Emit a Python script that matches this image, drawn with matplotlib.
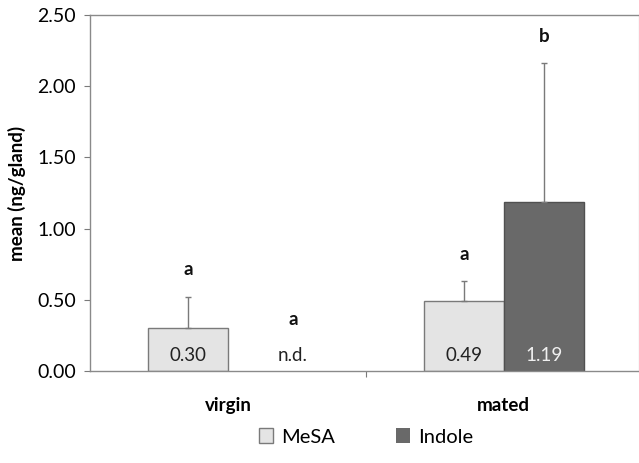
import matplotlib
matplotlib.use("Agg")
import matplotlib.pyplot as plt
import numpy as np

plt.rcParams['font.family'] = ['Lato', 'DejaVu Sans']

groups = ['virgin', 'mated']
series = ['MeSA', 'Indole']
means = {'MeSA': [0.30, 0.49], 'Indole': [0.0, 1.19]}
errs = {'MeSA': [0.22, 0.14], 'Indole': [0.0, 0.97]}
value_labels = {'MeSA': ['0.30', '0.49'], 'Indole': ['n.d.', '1.19']}
letters = {'MeSA': ['a', 'a'], 'Indole': ['a', 'b']}
colors = {'MeSA': '#e4e4e4', 'Indole': '#696969'}
edges = {'MeSA': '#7a7a7a', 'Indole': '#505050'}
text_colors = {'MeSA': '#222222', 'Indole': '#f0f0f0'}

fig = plt.figure(figsize=(6.39, 4.63), dpi=100)
ax = fig.add_axes([90 / 639, 1 - 371 / 463, 549 / 639, 356 / 463])

x = np.arange(len(groups))
w = 0.29
for i, s in enumerate(series):
    xs = x + (i - 0.5) * w
    m = np.array(means[s])
    e = np.array(errs[s])
    lw = np.where(m > 0, 1.0, 0.0)
    ax.bar(xs, m, w, color=colors[s], edgecolor=edges[s], linewidth=lw, label=s, zorder=2)
    has = e > 0
    ax.errorbar(xs[has], m[has], yerr=[np.zeros(has.sum()), e[has]], fmt='none',
                ecolor='#7a7a7a', elinewidth=1.0, capsize=2, capthick=1.0, zorder=3)
    for j in range(len(groups)):
        xt = xs[j]
        if m[j] == 0:
            xt = xs[j] + 0.09
            ly = 0.36
        else:
            ly = m[j] + e[j] + 0.19
        ax.text(xt, 0.11, value_labels[s][j], ha='center', va='center', fontsize=13.5,
                color=text_colors[s] if m[j] > 0 else '#222222', zorder=4)
        ax.text(xt, ly, letters[s][j], ha='center', va='center', fontsize=13.5,
                fontweight='bold', color='#111111')

ax.set_xlim(-0.5, 1.49)
ax.set_ylim(0, 2.5)
ax.set_yticks(np.arange(0, 2.51, 0.5))
ax.set_yticklabels([f'{v:.2f}' for v in np.arange(0, 2.51, 0.5)], fontsize=14)
ax.set_xticks([0.5], minor=False)
ax.set_xticklabels([''])
ax.tick_params(axis='x', length=4, color='#7a7a7a', direction='out')
ax.tick_params(axis='y', length=4, color='#7a7a7a', direction='out', pad=6)
for g, xc in zip(groups, x):
    ax.text(xc, -0.24, g, ha='center', va='center', fontsize=13.5, fontweight='bold',
            transform=ax.transData, clip_on=False)

for side in ['left', 'bottom', 'top', 'right']:
    ax.spines[side].set_color('#8a8a8a')
    ax.spines[side].set_linewidth(1.0)
ax.spines['right'].set_color('#dddddd')

ax.set_ylabel('mean (ng/gland)', fontsize=13.5, fontweight='bold', labelpad=8)

handles, labels = ax.get_legend_handles_labels()
fig.legend(handles, labels, loc='center', bbox_to_anchor=(366 / 639, 1 - 437 / 463),
           ncol=2, frameon=False, fontsize=14.5, handlelength=0.7, handleheight=0.7,
           handletextpad=0.4, columnspacing=3.0)

fig.savefig('out.png', dpi=100)
